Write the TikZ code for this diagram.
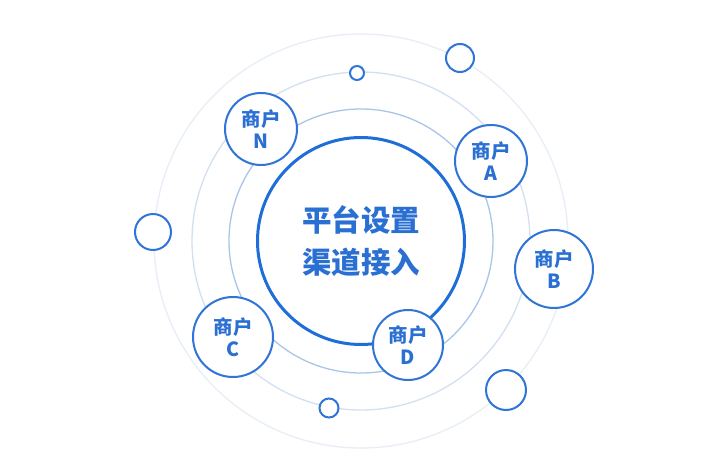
\documentclass[tikz,border=0pt]{standalone}
\usepackage{fontspec}
\setmainfont{Noto Sans CJK SC}
\begin{document}
\begin{tikzpicture}[x=1pt,y=-1pt,
  ring/.style={line width=1.3pt},
  merchant/.style={circle,draw=mblue,line width=2pt,fill=white,minimum size=#1,inner sep=0pt,align=center,text=tblue,font=\fontsize{19.5}{22}\selectfont\bfseries},
  dot/.style={circle,draw=mblue,line width=2pt,fill=white,minimum size=#1,inner sep=0pt}]
\definecolor{mblue}{HTML}{2F74D6}
\definecolor{cblue}{HTML}{1F6ED8}
\definecolor{tblue}{HTML}{2A6FD2}
\definecolor{ringA}{HTML}{A9C5E8}
\definecolor{ringB}{HTML}{D2E0F1}
\definecolor{ringC}{HTML}{E7EEF6}
\useasboundingbox[fill=white] (0,0) rectangle (713,472);
\coordinate (o) at (361,241);
\draw[ring,draw=ringC] (o) circle[radius=207];
\draw[ring,draw=ringB] (o) circle[radius=169];
\draw[ring,draw=ringA] (o) circle[radius=132];
\node[circle,draw=cblue,line width=3pt,fill=white,minimum size=207,inner sep=0pt,align=center,text=tblue,font=\fontsize{29.5}{42}\selectfont\bfseries] (center) at (o) {平台设置\\渠道接入};
\node[merchant=72] (mN) at (261,129) {商户\\N};
\node[merchant=72] (mA) at (491,161) {商户\\A};
\node[merchant=78] (mB) at (554,269) {商户\\B};
\node[merchant=80] (mC) at (233,337) {商户\\C};
\node[merchant=70] (mD) at (408,345) {商户\\D};
\node[dot=14] (s1) at (357,73) {};
\node[dot=28] (s2) at (460,58) {};
\node[dot=36] (s3) at (153,232) {};
\node[dot=19] (s4) at (329,408) {};
\node[dot=40] (s5) at (506,390) {};
\end{tikzpicture}
\end{document}
